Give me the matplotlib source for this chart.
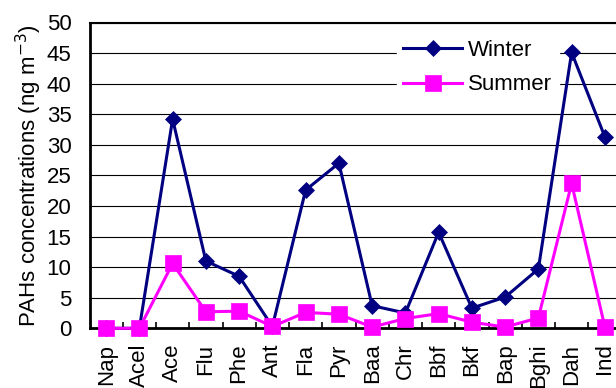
import matplotlib.pyplot as plt
import numpy as np

plt.rcParams['font.family'] = ['Liberation Sans', 'DejaVu Sans']

compounds = ['Nap', 'Acel', 'Ace', 'Flu', 'Phe', 'Ant', 'Fla', 'Pyr',
             'Baa', 'Chr', 'Bbf', 'Bkf', 'Bap', 'Bghi', 'Dah', 'Ind']
winter = [0.0, 0.0, 34.2, 11.0, 8.5, 0.3, 22.6, 27.0,
          3.7, 2.5, 15.7, 3.3, 5.1, 9.7, 45.1, 31.3]
summer = [0.0, 0.0, 10.6, 2.7, 2.8, 0.3, 2.6, 2.3,
          0.2, 1.6, 2.4, 1.0, 0.2, 1.7, 23.7, 0.2]

fig = plt.figure(figsize=(6.16, 3.88), dpi=100)
ax = fig.add_axes([89.5 / 616, 59.7 / 388, 532 / 616, 305.8 / 388])

x = np.arange(len(compounds))
ax.plot(x, winter, color='#000080', linewidth=2.2, marker='D', markersize=8.6,
        markeredgewidth=0.5, label='Winter', clip_on=False, zorder=3)
ax.plot(x, summer, color='#FF00FF', linewidth=2.2, marker='s', markersize=11.5,
        markeredgewidth=0.5, label='Summer', clip_on=False, zorder=4)

ax.set_xlim(-0.5, len(compounds) - 0.5)
ax.set_ylim(0, 50)
ax.set_yticks(np.arange(0, 51, 5))
ax.yaxis.grid(True, color='black', linewidth=0.8)
ax.set_axisbelow(True)

ax.set_xticks(x)
ax.set_xticklabels(compounds, rotation=90, fontsize=16)
ax.set_xticks(np.arange(0.5, len(compounds) - 1, 1), minor=True)
ax.tick_params(axis='x', which='major', length=0, pad=11)
ax.tick_params(axis='x', which='minor', direction='in', length=4, width=1.2)
ax.tick_params(axis='y', length=0, pad=13, labelsize=16)

ax.spines['left'].set_linewidth(2)
ax.spines['bottom'].set_linewidth(2)
ax.spines['top'].set_linewidth(1.5)
ax.spines['right'].set_visible(False)

ax.set_ylabel('PAHs concentrations (ng m$^{-3}$)', fontsize=16, labelpad=2)

leg = ax.legend(loc='upper left', bbox_to_anchor=(396.5 / 616, 1 - 33 / 388),
                bbox_transform=fig.transFigure, frameon=True, fancybox=False,
                edgecolor='white', facecolor='white', framealpha=1,
                fontsize=16, handlelength=2.66, handletextpad=0.27,
                labelspacing=0.62, borderpad=0.3, borderaxespad=0)
leg.set_zorder(10)

fig.savefig('out.png', dpi=100)
